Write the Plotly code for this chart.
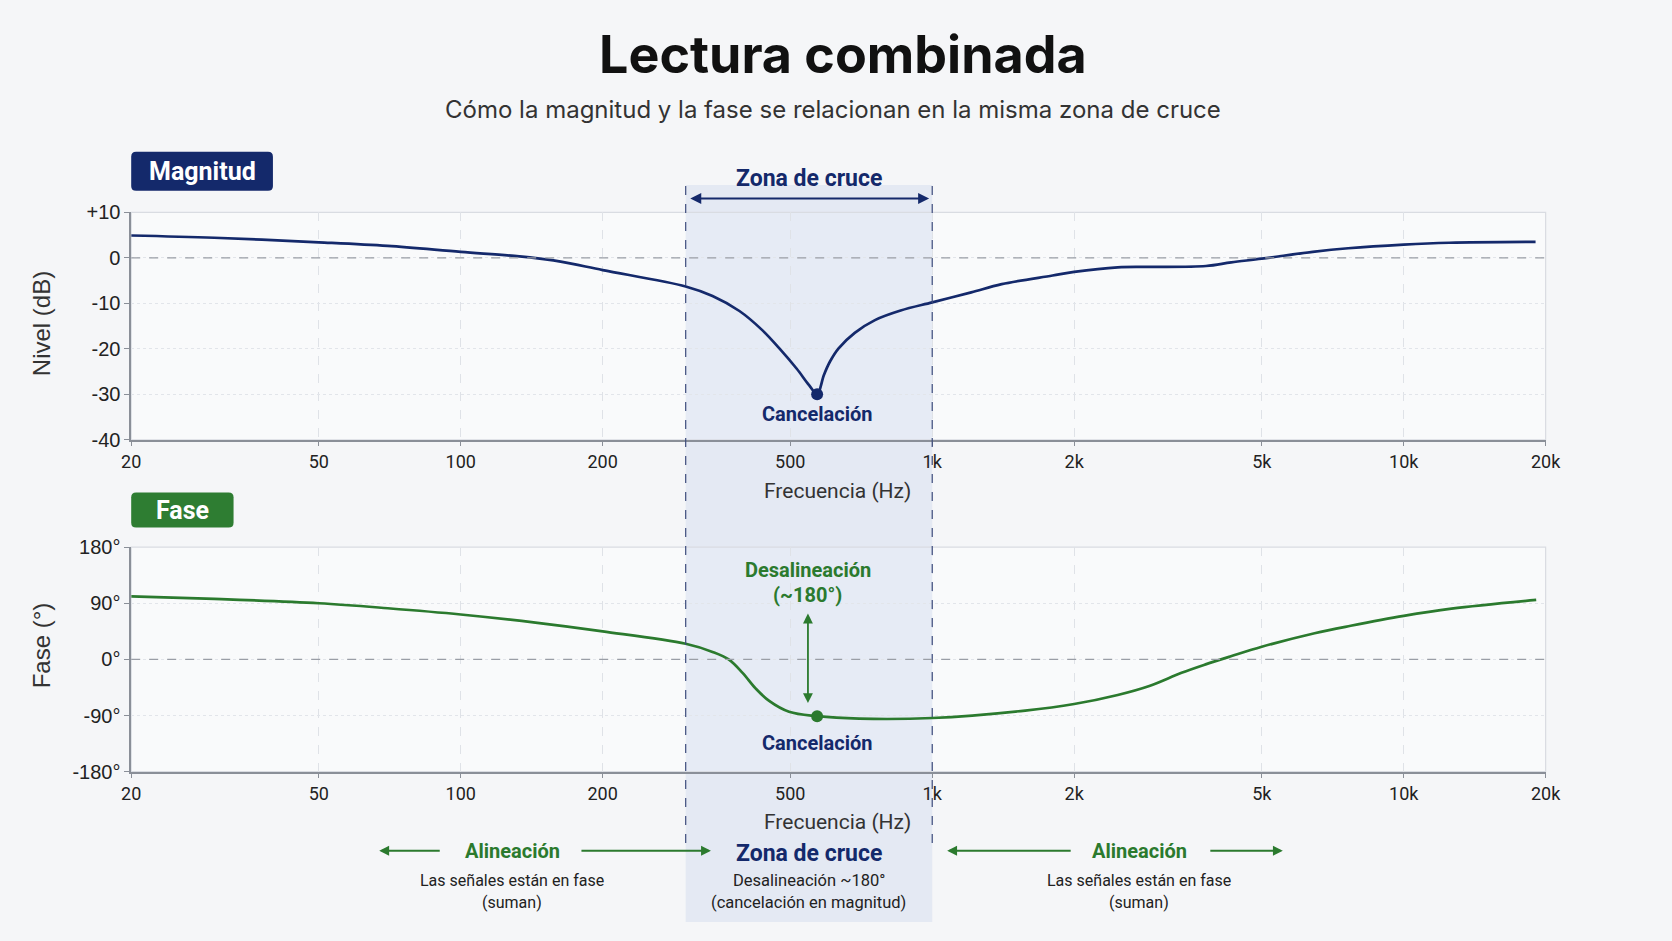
import numpy as np
import plotly.graph_objects as go

# the page keeps the browser's 8px body margin, so the figure is 16px smaller
# than the 1672x941 window and every pixel position below is page-relative
W, H = 1672, 941
PAD = 8
FW, FH = W - 2 * PAD, H - 2 * PAD

# magnitude response (Hz, dB)
MAG_FREQ = [20, 30, 50, 70, 100, 130, 150, 164, 200, 300, 342, 390, 436, 473, 516, 548, 570,
            589, 607, 633, 685, 756, 857, 1000, 1210, 1404, 1800, 2000, 2474, 2887, 3807, 4307,
            5000, 6413, 7624, 10000, 12500, 19040]
MAG_DB = [4.9, 4.4, 3.4, 2.6, 1.3, 0.4, -0.3, -0.9, -2.7, -6.3, -8.4, -11.7, -15.9, -19.8,
          -24.4, -28.0, -30.0, -25.8, -22.8, -19.9, -16.5, -13.7, -11.6, -9.8, -7.6, -5.8,
          -3.9, -3.1, -2.1, -2.0, -1.8, -1.0, -0.2, 1.3, 2.1, 2.9, 3.3, 3.5]

# phase response (Hz, degrees)
PHASE_FREQ = [20, 30, 50, 70, 100, 144, 200, 300, 342, 370, 396, 422, 451, 497, 570, 700,
              1000, 1575, 2000, 2474, 2887, 3379, 3800, 4300, 5000, 6471, 7720, 10000,
              12630, 19100]
PHASE_DEG = [101, 97, 90, 82, 72, 59, 45, 25, 12, 0, -21.6, -46.5, -66.6, -84, -91, -95,
             -94, -82, -71.5, -57, -42.6, -21.5, -8, 5, 20.2, 41.9, 53.9, 69.8, 81.3, 95.3]

CANCEL_FREQ = 570
CANCEL_MAG = -30
CANCEL_PHASE = -91
ZONE_LO, ZONE_HI = 300, 1000

X_TICKS = [20, 50, 100, 200, 500, 1000, 2000, 5000, 10000, 20000]
X_TICK_TEXT = ["20", "50", "100", "200", "500", "1k", "2k", "5k", "10k", "20k"]
MAG_TICKS = [-40, -30, -20, -10, 0, 10]
MAG_TICK_TEXT = ["-40", "-30", "-20", "-10", "0", "+10"]
PHASE_TICKS = [-180, -90, 0, 90, 180]
PHASE_TICK_TEXT = ["-180°", "-90°", "0°", "90°", "180°"]

NAVY = "#14296b"
GREEN = "#2b7a2e"
TEXT = "#222222"
BG = "#f5f6f8"
FONT = "Roboto, Liberation Sans, sans-serif"
TITLE_FONT = "Inter, Roboto, sans-serif"


def px(x, y):
    """page pixel position -> paper fraction of the figure"""
    return (x - PAD) / FW, 1 - (y - PAD) / FH


def rounded_box(x0, y0, x1, y1, r=5):
    """svg path of a rounded rectangle, pixel corners -> paper coords"""
    rx, ry = r / FW, r / FH
    a0, b1 = px(x0, y0)
    a1, b0 = px(x1, y1)
    return (f"M{a0 + rx},{b1} L{a1 - rx},{b1} Q{a1},{b1} {a1},{b1 - ry} L{a1},{b0 + ry} "
            f"Q{a1},{b0} {a1 - rx},{b0} L{a0 + rx},{b0} Q{a0},{b0} {a0},{b0 + ry} "
            f"L{a0},{b1 - ry} Q{a0},{b1} {a0 + rx},{b1} Z")


fig = go.Figure()

fig.add_trace(go.Scatter(x=MAG_FREQ, y=MAG_DB, mode="lines",
                         line=dict(color=NAVY, width=2.7, shape="spline", smoothing=1.0),
                         xaxis="x", yaxis="y", hoverinfo="skip"))
fig.add_trace(go.Scatter(x=[CANCEL_FREQ], y=[CANCEL_MAG], mode="markers", marker=dict(color=NAVY, size=12),
                         xaxis="x", yaxis="y"))
fig.add_trace(go.Scatter(x=PHASE_FREQ, y=PHASE_DEG, mode="lines",
                         line=dict(color=GREEN, width=2.7, shape="spline", smoothing=1.0),
                         xaxis="x2", yaxis="y2", hoverinfo="skip"))
fig.add_trace(go.Scatter(x=[CANCEL_FREQ], y=[CANCEL_PHASE], mode="markers", marker=dict(color=GREEN, size=12),
                         xaxis="x2", yaxis="y2"))

xdom = [px(123, 0)[0], px(1560, 0)[0]]
xaxis_common = dict(
    type="log", range=[np.log10(20), np.log10(20000)], domain=xdom,
    tickvals=X_TICKS, ticktext=X_TICK_TEXT, tickfont=dict(size=18, color=TEXT, family=FONT),
    showgrid=True, gridcolor="#dfe2e7", griddash="dash", gridwidth=1,
    showline=True, linecolor="#8a8f98", linewidth=1.5, ticks="outside", ticklen=5, tickcolor="#8a8f98",
    zeroline=False,
)
yaxis_common = dict(
    showgrid=True, gridcolor="#e2e5ea", griddash="dot", gridwidth=1,
    showline=True, linecolor="#8a8f98", linewidth=1.5, ticks="outside", ticklen=5, tickcolor="#8a8f98",
    zeroline=False, tickfont=dict(size=20, color=TEXT, family="Liberation Sans, sans-serif"),
)

fig.update_layout(
    width=FW, height=FH,
    margin=dict(l=0, r=0, t=0, b=0),
    paper_bgcolor=BG, plot_bgcolor="#f9fafb",
    showlegend=False,
    font=dict(family=FONT, color=TEXT),
    xaxis=dict(xaxis_common, anchor="y"),
    yaxis=dict(yaxis_common, domain=[px(0, 439)[1], px(0, 206)[1]], range=[-40, 10],
               tickvals=MAG_TICKS, ticktext=MAG_TICK_TEXT, anchor="x"),
    xaxis2=dict(xaxis_common, anchor="y2"),
    yaxis2=dict(yaxis_common, domain=[px(0, 779)[1], px(0, 549)[1]], range=[-180, 180],
                tickvals=PHASE_TICKS, ticktext=PHASE_TICK_TEXT, anchor="x2"),
)

shapes = []
# crossover band, full height below the top label
shapes.append(dict(type="rect", xref="x", yref="paper", x0=ZONE_LO, x1=ZONE_HI, y0=0, y1=px(0, 178)[1],
                   fillcolor="rgba(205,215,236,0.42)", line=dict(width=0), layer="below"))
for fx in (ZONE_LO, ZONE_HI):
    shapes.append(dict(type="line", xref="x", yref="paper", x0=fx, x1=fx, y0=px(0, 852)[1], y1=px(0, 178)[1],
                       line=dict(color="#3d4c7c", width=1.2, dash="dash")))
for xr, yr in (("x", "y"), ("x2", "y2")):
    shapes.append(dict(type="rect", xref=f"{xr} domain", yref=f"{yr} domain", x0=0, x1=1, y0=0, y1=1,
                       line=dict(color="#d9dce2", width=1.2), layer="below"))
    shapes.append(dict(type="line", xref=f"{xr} domain", yref=yr, x0=0, x1=1, y0=0, y1=0,
                       line=dict(color="#9a9ea6", width=1.3, dash="dash")))
# panel badges
shapes.append(dict(type="path", xref="paper", yref="paper", path=rounded_box(123, 144, 267, 184),
                   fillcolor=NAVY, line=dict(width=0)))
shapes.append(dict(type="path", xref="paper", yref="paper", path=rounded_box(123, 493, 227, 529),
                   fillcolor="#2e7d32", line=dict(width=0)))
fig.update_layout(shapes=shapes)

ann = []


def text(x, y, s, size, color=TEXT, bold=False, family=FONT, xref="paper", **kw):
    xx, yy = px(x, y)
    if xref != "paper":
        xx = x
    ann.append(dict(x=xx, y=yy, xref=xref, yref="paper", text=f"<b>{s}</b>" if bold else s, showarrow=False,
                    font=dict(size=size, color=color, family=family), xanchor="center", yanchor="middle", **kw))


def arrow(x_head, x_tail, y, color):
    xx, yy = px(x_head, y)
    ann.append(dict(x=xx, y=yy, xref="paper", yref="paper", text="", showarrow=True, ax=x_tail - x_head, ay=0,
                    arrowhead=2, arrowsize=1.1, arrowwidth=1.8, arrowcolor=color))


text(846, 44, "Lectura combinada", 52, "#111111", bold=True, family=TITLE_FONT)
text(836, 101, "Cómo la magnitud y la fase se relacionan en la misma zona de cruce", 24, "#333333",
     family=TITLE_FONT)

text(195, 164, "Magnitud", 25, "white", bold=True)
text(175, 511, "Fase", 25, "white", bold=True)

# axis titles
text(32, 320, "Nivel (dB)", 24, "#333333", textangle=-90, family="Liberation Sans, sans-serif")
text(32, 650, "Fase (°)", 24, "#333333", textangle=-90, family="Liberation Sans, sans-serif")
text(841, 491, "Frecuencia (Hz)", 21, "#333333")
text(841, 831, "Frecuencia (Hz)", 21, "#333333")

# crossover zone label on top
zone_mid = np.log10(np.sqrt(ZONE_LO * ZONE_HI))
text(zone_mid, 171, "Zona de cruce", 23, NAVY, bold=True, xref="x")
ann.append(dict(x=np.log10(ZONE_HI * 0.985), y=px(0, 192)[1], xref="x", yref="paper", axref="x",
                ax=np.log10(ZONE_LO * 1.015), ayref="pixel", ay=0, text="", showarrow=True,
                arrowhead=2, startarrowhead=2, arrowside="end+start", arrowsize=1.1, arrowwidth=2, arrowcolor=NAVY))

# cancellation labels
ann.append(dict(x=np.log10(CANCEL_FREQ), y=CANCEL_MAG, xref="x", yref="y", text="<b>Cancelación</b>",
                showarrow=False, yshift=-20, font=dict(size=20, color=NAVY)))
ann.append(dict(x=np.log10(CANCEL_FREQ), y=CANCEL_PHASE, xref="x2", yref="y2", text="<b>Cancelación</b>",
                showarrow=False, yshift=-27, font=dict(size=20, color=NAVY)))

# misalignment label + vertical double arrow
ann.append(dict(x=np.log10(545), y=143, xref="x2", yref="y2", text="<b>Desalineación</b>",
                showarrow=False, font=dict(size=20, color=GREEN)))
ann.append(dict(x=np.log10(545), y=104, xref="x2", yref="y2", text="<b>(~180°)</b>",
                showarrow=False, font=dict(size=20, color=GREEN)))
ann.append(dict(x=np.log10(545), y=-70, xref="x2", yref="y2", axref="x2", ax=np.log10(545), ayref="y2", ay=76,
                text="", showarrow=True, arrowhead=2, startarrowhead=2, arrowside="end+start",
                arrowsize=1.1, arrowwidth=1.8, arrowcolor=GREEN))

# bottom legend block
text(zone_mid, 863, "Zona de cruce", 23, NAVY, bold=True, xref="x")
text(zone_mid, 890, "Desalineación ~180°", 16.5, xref="x")
text(zone_mid, 913, "(cancelación en magnitud)", 16.5, xref="x")

text(510, 860, "Alineación", 20, GREEN, bold=True)
text(510, 890, "Las señales están en fase", 16)
text(510, 913, "(suman)", 16)
arrow(375, 437, 860, GREEN)
arrow(712, 581, 860, GREEN)

text(1147, 860, "Alineación", 20, GREEN, bold=True)
text(1147, 890, "Las señales están en fase", 16)
text(1147, 913, "(suman)", 16)
arrow(952, 1077, 860, GREEN)
arrow(1293, 1219, 860, GREEN)

fig.update_layout(annotations=ann)
fig.write_html("out.html", config={"displayModeBar": False},
               post_script=f"document.body.style.background='{BG}';")
